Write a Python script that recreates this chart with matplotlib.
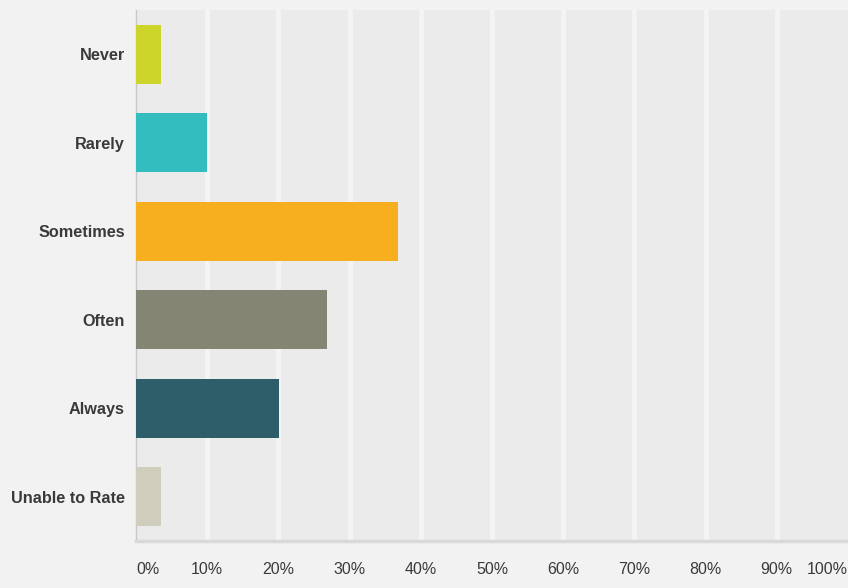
import matplotlib
matplotlib.use("Agg")
import matplotlib.pyplot as plt

plt.rcParams["font.family"] = ["Liberation Sans", "DejaVu Sans"]

# ── data ──
categories = ["Never", "Rarely", "Sometimes", "Often", "Always", "Unable to Rate"]
values = [3.5, 10.0, 36.8, 26.8, 20.1, 3.5]
colors = ["#cdd52a", "#33bdbf", "#f7ae1f", "#858573", "#2e5e6a", "#cfcdbb"]
ticks = list(range(0, 101, 10))
tick_labels = [f"{t}%" for t in ticks]

fig = plt.figure(figsize=(8.48, 5.88), dpi=100)
fig.patch.set_facecolor("#f2f2f2")
ax = fig.add_axes([136 / 848, 47 / 588, 712 / 848, 531 / 588])
ax.set_facecolor("#ebebeb")

ypos = list(range(len(categories)))
ax.barh(ypos, values, height=0.67, color=colors, zorder=3)

ax.set_xlim(0, 100)
ax.set_ylim(len(categories) - 0.5, -0.5)
ax.set_xticks(ticks)
ax.set_xticklabels(tick_labels, fontsize=11.5, color="#3a3a3a")
ax.set_yticks(ypos)
ax.set_yticklabels(categories, fontsize=11.7, fontweight="bold", color="#3a3a3a")
ax.tick_params(axis="x", length=0, pad=15)
ax.tick_params(axis="y", length=0, pad=8)
lbls = ax.get_xticklabels()
lbls[0].set_ha("left")
lbls[-1].set_ha("right")

for t in ticks[1:-1]:
    ax.axvline(t, color="#f4f4f4", lw=3.5, zorder=1)

for s in ["top", "right"]:
    ax.spines[s].set_visible(False)
ax.spines["left"].set_color("#c8c8c8")
ax.spines["left"].set_linewidth(1)
ax.spines["bottom"].set_color("#d9d9d9")
ax.spines["bottom"].set_linewidth(2.5)

fig.savefig("out.png", dpi=100, facecolor=fig.get_facecolor())
